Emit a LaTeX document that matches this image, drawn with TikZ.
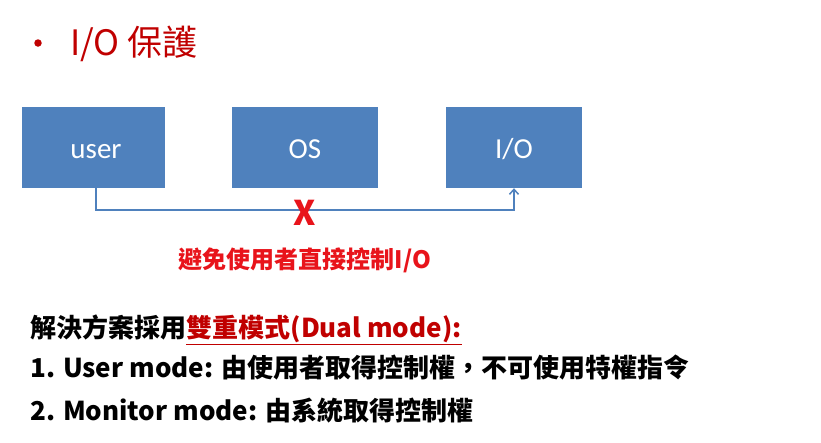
\documentclass[tikz,border=0pt]{standalone}
\usepackage{fontspec}
\setmainfont{Noto Sans CJK TC}
\newfontfamily\boxfont{Carlito}
\usetikzlibrary{arrows.meta}
\definecolor{boxblue}{HTML}{4F81BD}
\definecolor{titlered}{HTML}{C00000}
\definecolor{warnred}{HTML}{E8141B}
\begin{document}
\begin{tikzpicture}[x=1pt,y=-1pt,
  blk/.style={draw=none,fill=boxblue,minimum width=#1,minimum height=81pt,inner sep=0pt,text=white,font=\boxfont\fontsize{29}{30}\selectfont},
  txt/.style={inner sep=0pt,anchor=base west,font=\bfseries\fontsize{26}{28}\selectfont}]
\useasboundingbox (0,0) rectangle (821,442);
% title
\node[circle,fill=titlered,inner sep=0pt,minimum size=7.5pt] (bul) at (38,43) {};
\node[inner sep=0pt,anchor=base west,text=titlered,font=\fontsize{35}{40}\selectfont] (title) at (70,55) {I/O 保護};
% boxes
\node[blk=143pt] (user) at (93.5,147.5) {};
\node[blk=146pt] (os) at (305,147.5) {};
\node[blk=136pt] (io) at (514,147.5) {};
\node[anchor=base,text=white,font=\boxfont\fontsize{29}{30}\selectfont,inner sep=0pt] (usert) at (96,158) {user};
\node[anchor=base,text=white,font=\boxfont\fontsize{29}{30}\selectfont,inner sep=0pt] (ost) at (305,158) {OS};
\node[anchor=base,text=white,font=\boxfont\fontsize{29}{30}\selectfont,inner sep=0pt] (iot) at (514,158) {I/O};
% connector
\coordinate (c1) at (96,210);
\coordinate (c2) at (514,210);
\draw[boxblue,line width=1.5pt,-{Straight Barb[length=5pt,width=9pt]}] (user.south -| c1) -- (c1) -- (c2) -- (io.south -| c2);
\node[text=warnred,font=\bfseries\fontsize{34}{36}\selectfont,inner sep=0pt] (x) at (305,213) {X};
\node[text=warnred,font=\bfseries\fontsize{24}{28}\selectfont,inner sep=0pt] (warn) at (305,260) {避免使用者直接控制I/O};
% bottom text
\node[txt] (l1a) at (30,337) {解決方案採用};
\node[txt,text=titlered,anchor=base west] (l1b) at (l1a.base east) {雙重模式(Dual mode):};
\draw[titlered,line width=1.5pt] ([yshift=-2pt]l1b.south west) -- ([yshift=-2pt]l1b.south east);
\node[txt] (l2) at (30,377) {1. User mode: 由使用者取得控制權，不可使用特權指令};
\node[txt] (l3) at (30,420) {2. Monitor mode: 由系統取得控制權};
\end{tikzpicture}
\end{document}
